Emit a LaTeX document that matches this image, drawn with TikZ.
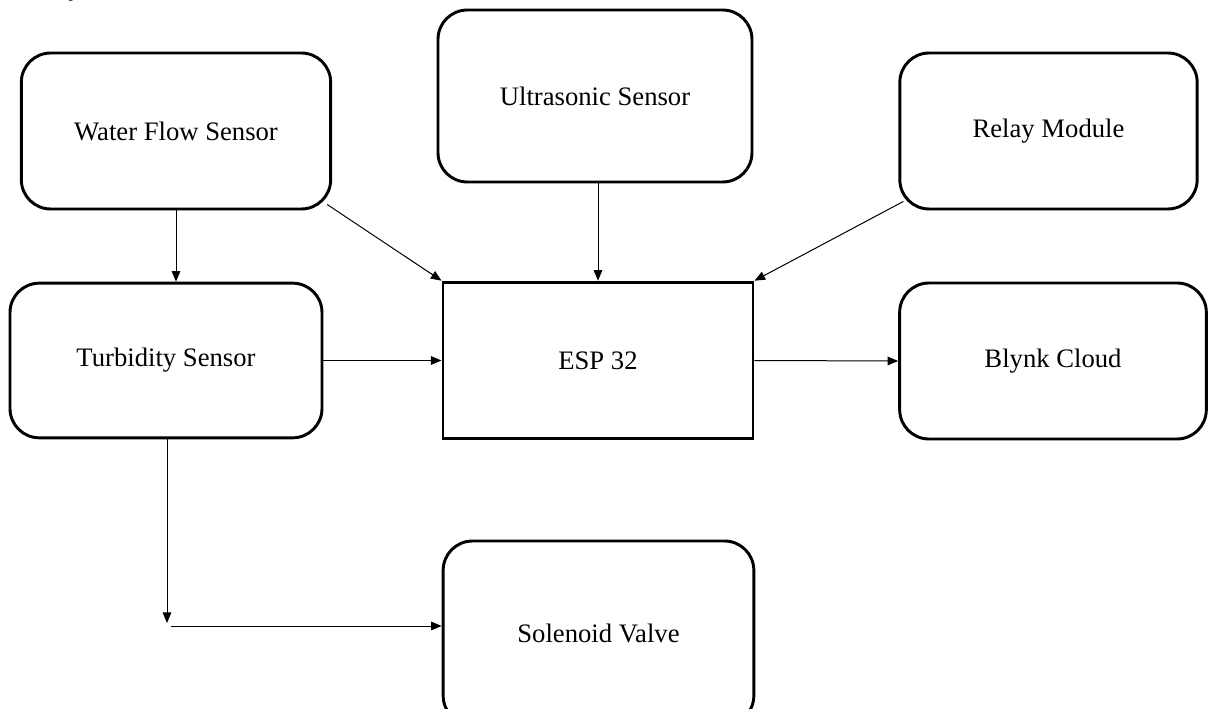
\documentclass[tikz,border=0pt]{standalone}
\usepackage{fontspec}
\setmainfont{Liberation Serif}
\usetikzlibrary{arrows.meta,calc}
\begin{document}
\begin{tikzpicture}[x=0.75pt,y=-0.75pt,
  box/.style={draw=black,line width=2.2pt,rounded corners=22pt,inner sep=0pt,font=\fontsize{20}{24}\selectfont},
  sbox/.style={draw=black,line width=2.2pt,inner sep=0pt,font=\fontsize{20}{24}\selectfont},
  conn/.style={draw=black,line width=0.75pt,-{Triangle[length=8pt,width=6.5pt]}},
  plain/.style={draw=black,line width=0.75pt}]
\useasboundingbox (0,0) rectangle (1208,709);
\node[anchor=base,font=\fontsize{20}{24}\selectfont] (frag) at (75,-4) {y};
\node[box,minimum width=232pt,minimum height=117pt] (wfs) at (176,131) {Water Flow Sensor};
\node[box,minimum width=235.5pt,minimum height=129pt] (us) at (595,96) {Ultrasonic Sensor};
\node[box,minimum width=223pt,minimum height=117pt] (relay) at (1048.5,131) {Relay Module};
\node[box,minimum width=234pt,minimum height=116pt] (turb) at (166,360.5) {Turbidity Sensor};
\node[sbox,minimum width=232.5pt,minimum height=117.5pt] (esp) at (598,360.5) {ESP 32};
\node[box,minimum width=230pt,minimum height=117pt] (blynk) at (1053,361) {Blynk Cloud};
\node[box,minimum width=233pt,minimum height=138pt] (sol) at (598.5,633) {Solenoid Valve};
\coordinate (bend) at (167,623);
\coordinate (start2) at (171,626);
\draw[conn] (wfs.south -| 176,0) -- (turb.north -| 176,0);
\draw[conn] ($(wfs.south east)+(-5,-6)$) -- (esp.north west);
\draw[conn] (us.south -| 598,0) -- (esp.north -| 598,0);
\draw[conn] ($(relay.south west)+(5,-9)$) -- (esp.north east);
\draw[conn] (turb.east) -- (esp.west);
\draw[conn] (esp.east) -- (blynk.west);
\draw[conn] (turb.south -| bend) -- (bend);
\draw[conn] (start2) -- (start2 -| sol.west);
\end{tikzpicture}
\end{document}
